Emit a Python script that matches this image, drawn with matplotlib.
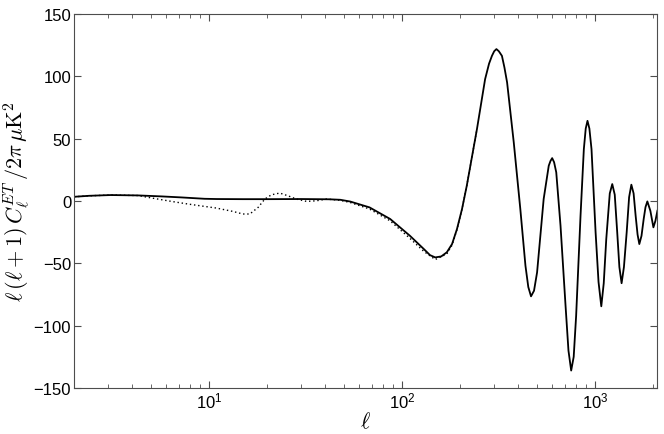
import numpy as np
import matplotlib
matplotlib.use('Agg')
import matplotlib.pyplot as plt

plt.rcParams['mathtext.fontset'] = 'cm'
plt.rcParams['font.family'] = ['Liberation Sans', 'DejaVu Sans']

# solid curve
ell_solid = [2, 2.4, 3.1, 4.3, 5.7, 7.2, 9.5, 11, 15, 20, 30, 42, 48, 54, 68, 87,
             110, 130, 140, 149, 160, 171, 182, 193, 205, 217, 245, 270, 283, 293,
             301, 309, 318, 330, 340, 351, 380, 411, 437, 452, 467, 484, 502, 543,
             577, 589, 601, 615, 631, 664, 705, 730, 754, 777, 800, 843, 877, 897,
             916, 937, 961, 1009, 1045, 1080, 1112, 1146, 1195, 1231, 1268, 1306,
             1340, 1376, 1415, 1462, 1505, 1546, 1588, 1627, 1665, 1700, 1745, 1791,
             1830, 1871, 1940, 2011, 2060, 2110]
te_solid = [3.3, 4.1, 4.7, 4.4, 3.6, 2.8, 1.7, 1.5, 1.4, 1.4, 1.5, 1.3, 0.9, -0.5,
            -5.2, -14.5, -27.9, -38.6, -43.5, -45.3, -44.5, -41.2, -34.6, -22.6, -6.5,
            12.2, 57.6, 97.6, 110, 116.3, 120, 121.7, 120, 116.3, 107, 95, 47, -6.5,
            -52, -69, -76.5, -72, -57.3, 1.5, 28.2, 32, 34.3, 31, 22.9, -19.9, -84,
            -120, -136, -125, -92, -11.9, 41.5, 58, 64.2, 58, 41.5, -25.2, -65, -84.5,
            -66, -30.6, 6, 13.5, 5, -25.2, -53, -66, -53, -25.2, 3, 13, 6, -11.9, -27,
            -34.6, -28, -14.5, -5, -0.4, -8, -21.2, -16, -7.9]

# dotted curve (merges with the solid one above l ~ 200)
ell_dot = [2, 2.4, 3.1, 4.3, 5.2, 6.4, 7.8, 9.0, 10.9, 13.3, 15.0, 16.3, 18.0, 19.5,
           21.1, 23.3, 25.7, 28.4, 32.1, 36.1, 40.7, 47.8, 53.8, 68, 87, 110, 130,
           149, 171, 182, 193, 205, 217, 245]
te_dot = [3.3, 4.1, 4.7, 4.3, 2.0, -0.4, -2.5, -3.9, -5.7, -8.4, -10.5, -10.5, -5.2,
          1.5, 4.9, 6.3, 4.1, 1.5, -0.4, 0.1, 1.5, 0.5, -1.2, -6.5, -16, -30, -40.5,
          -47, -42.5, -35.5, -23, -6.5, 12.2, 57.6]

fig = plt.figure(figsize=(6.64, 4.35), dpi=100)
ax = fig.add_axes([0.1114, 0.1057, 0.8781, 0.8603])

ax.semilogx(ell_dot, te_dot, color='k', linestyle=(0, (1, 2)), linewidth=1.0)
ax.semilogx(ell_solid, te_solid, color='k', linewidth=1.3)

ax.set_xlim(2, 2100)
ax.set_ylim(-150, 150)
ax.set_yticks([-150, -100, -50, 0, 50, 100, 150])

ax.tick_params(which='both', direction='in', top=True, right=True, labelsize=12,
               color='0.3', pad=2)
ax.tick_params(which='major', length=5)
ax.tick_params(which='minor', length=3)
for s in ax.spines.values():
    s.set_color('0.3')

ax.set_xlabel(r'$\ell$', fontsize=16, labelpad=0)
ax.set_ylabel(r'$\ell\,(\ell+1)\,C_\ell^{ET}\,/2\pi\,\mu{\rm K}^2$', fontsize=16,
              labelpad=1)

plt.savefig('out.png', dpi=100)
